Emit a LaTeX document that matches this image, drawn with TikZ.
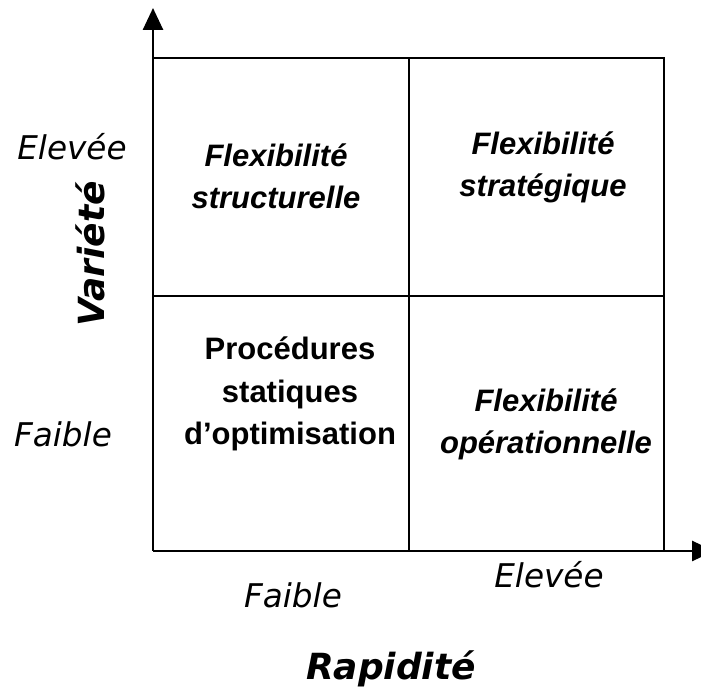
\documentclass[tikz,border=0pt]{standalone}
\usepackage{fontspec}
\usetikzlibrary{arrows.meta}
\newfontfamily\quadfont{Liberation Sans}
\newfontfamily\comicfont{DejaVu Sans}
\begin{document}
\begin{tikzpicture}[x=0.75pt,y=-0.75pt,
  gridline/.style={line width=1.6pt,black},
  axisline/.style={line width=2pt,black,-{Triangle[length=16.5pt,width=15pt]}},
  quadtext/.style={inner sep=0pt,anchor=north,align=center,font=\quadfont\bfseries\itshape\fontsize{23.25}{31.5}\selectfont},
  quadup/.style={quadtext,font=\quadfont\bfseries\fontsize{23.25}{31.8}\selectfont},
  levtext/.style={inner sep=0pt,font=\comicfont\itshape\fontsize{24.5}{30}\selectfont},
  axtitle/.style={inner sep=0pt,font=\comicfont\bfseries\itshape\fontsize{27}{32}\selectfont}]
\useasboundingbox (0,0) rectangle (701,691);
\fill[white] (0,0) rectangle (701,691);
% frame and quadrant lines
\coordinate (o) at (153,551);
\coordinate (ytip) at (153,8);
\coordinate (xtip) at (714,551);
\coordinate (tl) at (153,58);
\coordinate (tr) at (664,58);
\coordinate (br) at (664,551);
\coordinate (mt) at (409,58);
\coordinate (mb) at (409,551);
\coordinate (ml) at (153,296);
\coordinate (mr) at (664,296);
\draw[gridline] (tl) -- (tr) -- (br);
\draw[gridline] (mt) -- (mb);
\draw[gridline] (ml) -- (mr);
\draw[axisline] (o) -- (ytip);
\draw[axisline] (o) -- (xtip);
% quadrant texts
\node[quadtext] (q1) at (276,144) {Flexibilité\\structurelle};
\node[quadtext] (q2) at (543,132) {Flexibilité\\stratégique};
\node[quadup] (q3) at (290,337) {Procédures\\statiques\\d’optimisation};
\node[quadtext] (q4) at (546,389) {Flexibilité\\opérationnelle};
% level labels
\node[levtext,anchor=base] (yhigh) at (72,160) {Elevée};
\node[levtext,anchor=base] (ylow) at (63,447) {Faible};
\node[levtext,anchor=base] (xlow) at (293,608) {Faible};
\node[levtext,anchor=base] (xhigh) at (549,588) {Elevée};
% axis titles
\node[axtitle,rotate=90,anchor=base] (ytitle) at (104,254) {Variété};
\node[axtitle,anchor=base] (xtitle) at (391,680) {Rapidité};
\end{tikzpicture}
\end{document}
